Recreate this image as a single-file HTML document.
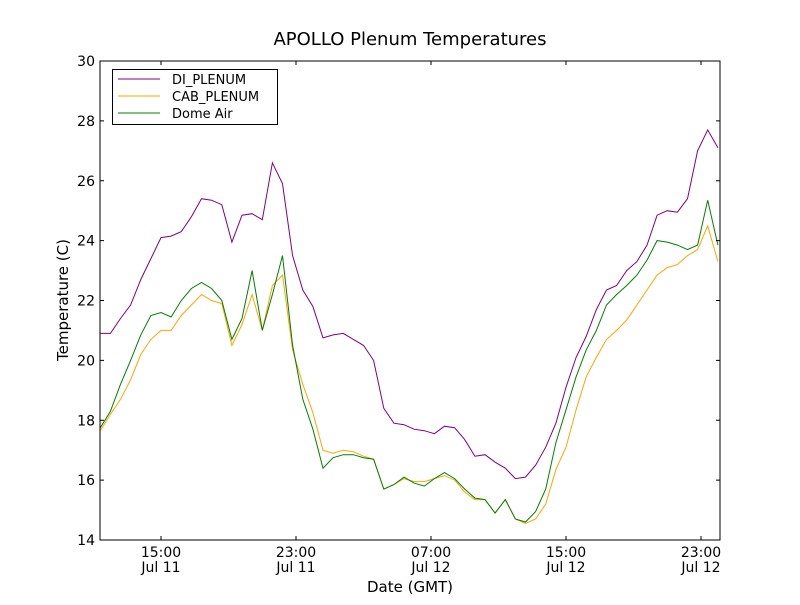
<!DOCTYPE html>
<html><head><meta charset="utf-8"><style>
body{margin:0;background:#fff;font-family:"Liberation Sans","DejaVu Sans",sans-serif}
svg text{font-family:"DejaVu Sans","Liberation Sans",sans-serif}
</style></head><body>
<svg id="chart" width="800" height="600" xmlns="http://www.w3.org/2000/svg">
<rect width="800" height="600" fill="#fff"/>
<text x="410" y="45" font-size="18" text-anchor="middle">APOLLO Plenum Temperatures</text>
<g id="plot"></g>
<text x="410" y="592" font-size="15" text-anchor="middle">Date (GMT)</text>
<text transform="translate(68,300) rotate(-90)" font-size="15" text-anchor="middle">Temperature (C)</text>
</svg>
<script>
const times = [11.4,12.0,12.6,13.2,13.8,14.4,15.0,15.6,16.2,16.8,17.4,18.0,18.6,19.2,19.8,20.4,21.0,21.6,22.2,22.8,23.4,24.0,24.6,25.2,25.8,26.4,27.0,27.6,28.2,28.8,29.4,30.0,30.6,31.2,31.8,32.4,33.0,33.6,34.2,34.8,35.4,36.0,36.6,37.2,37.8,38.4,39.0,39.6,40.2,40.8,41.4,42.0,42.6,43.2,43.8,44.4,45.0,45.6,46.2,46.8,47.4,48.0];
const diPlenum = [20.9,20.9,21.4,21.85,22.7,23.4,24.1,24.15,24.3,24.8,25.4,25.35,25.2,23.95,24.85,24.9,24.7,26.6,25.9,23.5,22.35,21.8,20.75,20.85,20.9,20.7,20.5,20.0,18.4,17.9,17.85,17.7,17.65,17.55,17.8,17.75,17.35,16.8,16.85,16.6,16.4,16.05,16.1,16.5,17.1,17.9,19.1,20.1,20.8,21.7,22.35,22.5,23.0,23.3,23.85,24.85,25.0,24.95,25.4,27.0,27.7,27.1];
const cabPlenum = [17.65,18.2,18.7,19.35,20.2,20.7,21.0,21.0,21.5,21.85,22.2,22.0,21.9,20.5,21.2,22.2,21.0,22.5,22.85,20.35,19.2,18.25,17.0,16.9,17.0,16.95,16.8,16.7,15.7,15.85,16.05,15.95,15.95,16.05,16.15,16.0,15.6,15.35,15.35,14.9,15.35,14.7,14.55,14.7,15.2,16.35,17.1,18.35,19.45,20.1,20.7,21.0,21.35,21.85,22.35,22.85,23.1,23.2,23.5,23.7,24.5,23.3];
const domeAir = [17.75,18.3,19.2,20.0,20.85,21.5,21.6,21.45,22.0,22.4,22.6,22.4,22.0,20.7,21.4,23.0,21.0,22.2,23.5,20.5,18.7,17.7,16.4,16.75,16.85,16.85,16.75,16.7,15.7,15.85,16.1,15.9,15.8,16.05,16.25,16.05,15.7,15.4,15.35,14.9,15.35,14.7,14.6,14.95,15.7,17.25,18.35,19.45,20.35,21.0,21.85,22.2,22.5,22.85,23.35,24.0,23.95,23.85,23.7,23.85,25.35,23.85];
const yTicks = [14,16,18,20,22,24,26,28,30];
const xTickHours = [15,23,31,39,47];
const xTickTimes = ["15:00","23:00","07:00","15:00","23:00"];
const xTickDates = ["Jul 11","Jul 11","Jul 12","Jul 12","Jul 12"];

const L=100,R=720,T=61,B=540, h0=11.385, h1=48.126, yMin=14, yMax=30;
const xs=h=>L+(h-h0)/(h1-h0)*(R-L);
const ys=v=>B-(v-yMin)/(yMax-yMin)*(B-T);
const NS="http://www.w3.org/2000/svg";
const g=document.getElementById('plot');
function mk(tag,attrs){const e=document.createElementNS(NS,tag);for(const k in attrs)e.setAttribute(k,attrs[k]);g.appendChild(e);return e;}

function series(vals,color,name){
  const p=mk('polyline',{points:vals.map((v,i)=>xs(times[i]).toFixed(1)+','+ys(v).toFixed(1)).join(' '),fill:'none',stroke:color,'stroke-width':1});
  
  
}
series(diPlenum,'#800080','di-plenum-line');
series(cabPlenum,'#ffa500','cab-plenum-line');
series(domeAir,'#008000','dome-air-line');

const frame=mk('rect',{x:L,y:T,width:R-L,height:B-T,fill:'none',stroke:'#000','stroke-width':1});



yTicks.forEach(v=>{
  const y=ys(v);
  mk('line',{x1:L,x2:L+4,y1:y,y2:y,stroke:'#000'});
  mk('line',{x1:R,x2:R-4,y1:y,y2:y,stroke:'#000'});
  const t=mk('text',{x:L-5,y:y+5,'font-size':14,'text-anchor':'end'});
  t.textContent=v;
  
  
});
xTickHours.forEach((h,i)=>{
  const x=xs(h);
  mk('line',{x1:x,x2:x,y1:B,y2:B-4,stroke:'#000'});
  mk('line',{x1:x,x2:x,y1:T,y2:T+4,stroke:'#000'});
  const t=mk('text',{x:x,y:B+17,'font-size':14,'text-anchor':'middle'});
  t.textContent=xTickTimes[i];
  
  
  const d=mk('text',{x:x,y:B+32,'font-size':14,'text-anchor':'middle'});
  d.textContent=xTickDates[i];
  
  
});

const lg=mk('rect',{x:112.5,y:69.5,width:165,height:55,fill:'#fff',stroke:'#000'});


[['DI_PLENUM','#800080'],['CAB_PLENUM','#ffa500'],['Dome Air','#008000']].forEach((e,i)=>{
  const y=79+i*17;
  mk('line',{x1:118,x2:160,y1:y,y2:y,stroke:e[1]});
  const t=mk('text',{x:172,y:y+5,'font-size':13});
  t.textContent=e[0];
  
  
});
</script>
</body></html>
